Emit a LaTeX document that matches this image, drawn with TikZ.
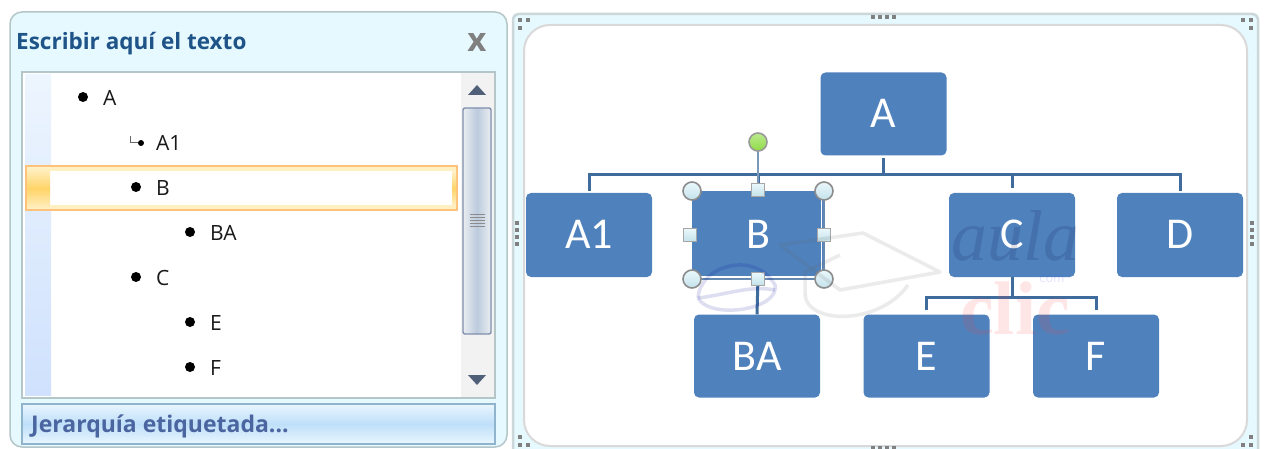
\documentclass[tikz,border=0pt]{standalone}
\usepackage{fontspec}
\setmainfont{Open Sans}
\newfontfamily\boxfont{Carlito}
\newfontfamily\wmfont{Liberation Serif}
\usetikzlibrary{calc}
\definecolor{boxblue}{HTML}{4F81BD}
\definecolor{linkblue}{HTML}{3F6C9C}
\definecolor{paneblue}{HTML}{E6F9FF}
\definecolor{panelgray}{HTML}{B4C6C8}
\definecolor{titleblue}{HTML}{1F5488}
\definecolor{footblue}{HTML}{4A659F}
\definecolor{stripa}{HTML}{EDF5FE}
\definecolor{stripb}{HTML}{CFE1FD}
\definecolor{arrowc}{HTML}{4F6078}
\definecolor{thumbedge}{HTML}{7F8FAC}
\definecolor{thumbmid}{HTML}{BCCBDD}
\definecolor{thumbside}{HTML}{EAEDF1}
\definecolor{hiedge}{HTML}{FFC27A}
\definecolor{hipale}{HTML}{FFF0C4}
\definecolor{hideep}{HTML}{FFD468}
\definecolor{foottop}{HTML}{E9F6FE}
\definecolor{footbot}{HTML}{BFDFF9}
\definecolor{footedge}{HTML}{8FB4CC}
\definecolor{handlea}{HTML}{EAF8FC}
\definecolor{handleb}{HTML}{C4E2EA}
\definecolor{rotgreen}{HTML}{8FDC45}
\tikzset{
  orgbox/.style={fill=boxblue,rounded corners=5pt,inner sep=0pt,text=white,font=\boxfont\fontsize{44}{44}\selectfont,minimum width=126pt,minimum height=83pt},
  link/.style={draw=linkblue,line width=3pt},
  listtext/.style={anchor=west,inner sep=0pt,text=black!90,font=\fontsize{21}{21}\selectfont},
  dotbullet/.style={circle,fill=black,inner sep=0pt,minimum size=10pt},
  cornerh/.style={circle,draw=black!45,line width=1.6pt,top color=handlea,bottom color=handleb,inner sep=0pt,minimum size=18pt},
  sideh/.style={rectangle,draw=black!35,line width=1.2pt,top color=handlea,bottom color=handleb,inner sep=0pt,minimum size=13pt},
}
\begin{document}
\begin{tikzpicture}[x=1pt,y=-1pt]
\useasboundingbox (0,0) rectangle (1264,449);
\fill[white] (0,0) rectangle (1264,449);
% left panel
\draw[draw=panelgray,line width=1.5pt,fill=paneblue,rounded corners=12pt] (10,12) rectangle (507,447);
\node[anchor=west,inner sep=0pt,text=titleblue,font=\bfseries\fontsize{22.5}{22.5}\selectfont] (title) at (16,44) {Escribir aquí el texto};
\node[inner sep=0pt,text=black!50,font=\bfseries\fontsize{33}{33}\selectfont] (closex) at (477,42) {x};
\draw[draw=panelgray,line width=1.5pt,fill=white] (22,72) rectangle (495,398);
\shade[top color=stripa,bottom color=stripb] (25,75) rectangle (51,395);
% scrollbar
\fill[black!5] (461,73) rectangle (494,397);
\fill[arrowc] (468,95) -- (477,85) -- (486,95) -- cycle;
\fill[arrowc] (468,375) -- (477,385) -- (486,375) -- cycle;
\shade[left color=thumbside,right color=thumbside,middle color=thumbmid,rounded corners=2pt] (463,108) rectangle (491,334);
\draw[draw=thumbedge,line width=1.4pt,rounded corners=2pt] (463,108) rectangle (491,334);
\foreach \gy in {214,217,220,223,226}{\draw[black!45,line width=.8pt] (470,\gy) -- (485,\gy);}
% highlighted row
\draw[draw=hiedge,line width=1.5pt,fill=white] (26,166) rectangle (457,210);
\fill[hipale] (27,167) rectangle (456,171);
\fill[hipale] (27,205) rectangle (456,209);
\shade[top color=hipale,bottom color=hipale,middle color=hideep] (27,168) rectangle (50,209);
\shade[top color=hipale,bottom color=hipale,middle color=hideep] (452,172) rectangle (456,205);
% list
\node[dotbullet] (bA) at (83,97) {};
\node[listtext] (tA) at (103,98) {A};
\node[dotbullet,minimum size=6pt] (bA1) at (141,143) {};
\draw[black!60,line width=1pt] (130,136) -- (130,143) -- (bA1);
\node[listtext] (tA1) at (156,143) {A1};
\node[dotbullet] (bB) at (136,187) {};
\node[listtext] (tB) at (156,188) {B};
\node[dotbullet] (bBA) at (190,232) {};
\node[listtext] (tBA) at (210,233) {BA};
\node[dotbullet] (bC) at (136,277) {};
\node[listtext] (tC) at (156,278) {C};
\node[dotbullet] (bE) at (190,322) {};
\node[listtext] (tE) at (210,323) {E};
\node[dotbullet] (bF) at (190,367) {};
\node[listtext] (tF) at (210,368) {F};
% footer
\shade[top color=foottop,bottom color=foottop,middle color=footbot] (22,404) rectangle (495,444);
\draw[draw=footedge,line width=1.5pt] (22,404) rectangle (495,444);
\node[anchor=west,inner sep=0pt,text=footblue,font=\bfseries\fontsize{23}{23}\selectfont] (foot) at (31,426) {Jerarquía etiquetada...};
% right panel
\fill[paneblue] (513,14) rectangle (1258,449);
\draw[draw=panelgray!70,line width=2.5pt,rounded corners=6pt] (513,449) -- (513,14) -- (1258,14) -- (1258,449);
\draw[draw=black!15,line width=2pt,fill=white,rounded corners=26pt] (524,25) rectangle (1247,446);
\foreach \gx/\gy in {520/20,528/20,520/28,1243/20,1251/20,1251/28,520/437,520/445,528/445,1251/437,1251/445,1243/445}{\fill[black!50] (\gx-1.8,\gy-1.8) rectangle (\gx+1.8,\gy+1.8);}
\foreach \gx in {873,880,887,894}{\fill[black!50] (\gx-1.6,17-1.6) rectangle (\gx+1.6,17+1.6);\fill[black!50] (\gx-1.6,448-1.6) rectangle (\gx+1.6,448+1.6);}
\foreach \gy in {223,230,237,244}{\fill[black!50] (517-1.6,\gy-1.6) rectangle (517+1.6,\gy+1.6);\fill[black!50] (1252-1.6,\gy-1.6) rectangle (1252+1.6,\gy+1.6);}
% org chart
\node[orgbox] (A) at (883.5,114) {\raisebox{1.5pt}{A}};
\node[orgbox,minimum height=84pt] (A1) at (589,235) {\raisebox{1pt}{A1}};
\node[orgbox,minimum width=132pt,minimum height=86pt,rounded corners=0pt] (B) at (758,234) {B};
\node[orgbox,minimum height=84pt] (C) at (1012,235) {\raisebox{1pt}{C}};
\node[orgbox,minimum height=84pt] (D) at (1180,235) {\raisebox{1pt}{D}};
\node[orgbox] (BA) at (757,356) {BA};
\node[orgbox] (E) at (926.5,356) {E};
\node[orgbox] (F) at (1096,356) {F};
\coordinate (busA) at (883.5,175);
\coordinate (busB) at (758,175);
\coordinate (busC) at (1012,297);
\draw[link,shorten <=2pt] (A.south) -- (busA);
\draw[link] (A1.north) ++(0,-2) |- (busA);
\draw[link] (D.north) ++(0,-2) |- (busA);
\draw[link,shorten >=5pt] (busA -| C) -- (C.north);
\draw[link] (busC |- C.south) -- (busC);
\draw[link,shorten >=4pt] (busC) -| (E.north);
\draw[link,shorten >=4pt] (busC) -| (F.north);
\draw[link] (B.south) -- (BA.north);
\draw[link] (busB) -- (B.north);
% selection frame
\coordinate (selNW) at (692,191);
\coordinate (selNE) at (824,191);
\coordinate (selSW) at (692,279);
\coordinate (selSE) at (824,279);
\draw[draw=white,line width=1.8pt] (821.5,192) -- (821.5,277) -- (693,277);
\draw[draw=linkblue!80,line width=2pt] (selNE) -- (selSE) -- (selSW);
\coordinate (rotfoot) at (758,186);
\draw[draw=linkblue!70,line width=2pt] (758,151) -- (rotfoot);
\node[circle,draw=black!40,line width=1.6pt,inner sep=0pt,minimum size=18pt,top color=rotgreen!60!white,bottom color=rotgreen] (rot) at (758,142) {};
\node[cornerh] (hNW) at (selNW) {};
\node[cornerh] (hNE) at (selNE) {};
\node[cornerh] (hSW) at (selSW) {};
\node[cornerh] (hSE) at (selSE) {};
\node[sideh] (hN) at (758,190) {};
\node[sideh] (hW) at (690,235) {};
\node[sideh] (hE) at (824,235) {};
\node[sideh] (hS) at (758,279) {};
% watermark
\begin{scope}[opacity=.13,line width=3.5pt,draw=black!60,line join=round]
\draw (780,245) -- (863,233) -- (940,272) -- (840,290) -- cycle;
\draw (805,295) .. controls (808,325) and (880,325) .. (908,285);
\draw (840,255) -- (805,272) -- (805,295);
\draw[blue!60!black] (698,298) .. controls (700,265) and (755,250) .. (775,285) .. controls (780,310) and (710,320) .. (698,298);
\draw[blue!60!black] (698,298) .. controls (725,295) and (750,285) .. (775,290);
\end{scope}
\node[inner sep=0pt,opacity=.13,text=black!80!blue,font=\wmfont\itshape\fontsize{72}{72}\selectfont] (wmaula) at (1015,236) {aula};
\node[inner sep=0pt,opacity=.15,text=blue!70,font=\sffamily\fontsize{15}{15}\selectfont] (wmcom) at (1052,279) {com};
\node[inner sep=0pt,opacity=.13,text=red!75,font=\wmfont\bfseries\fontsize{76}{76}\selectfont] (wmclic) at (1015,308) {clic};
\end{tikzpicture}
\end{document}
